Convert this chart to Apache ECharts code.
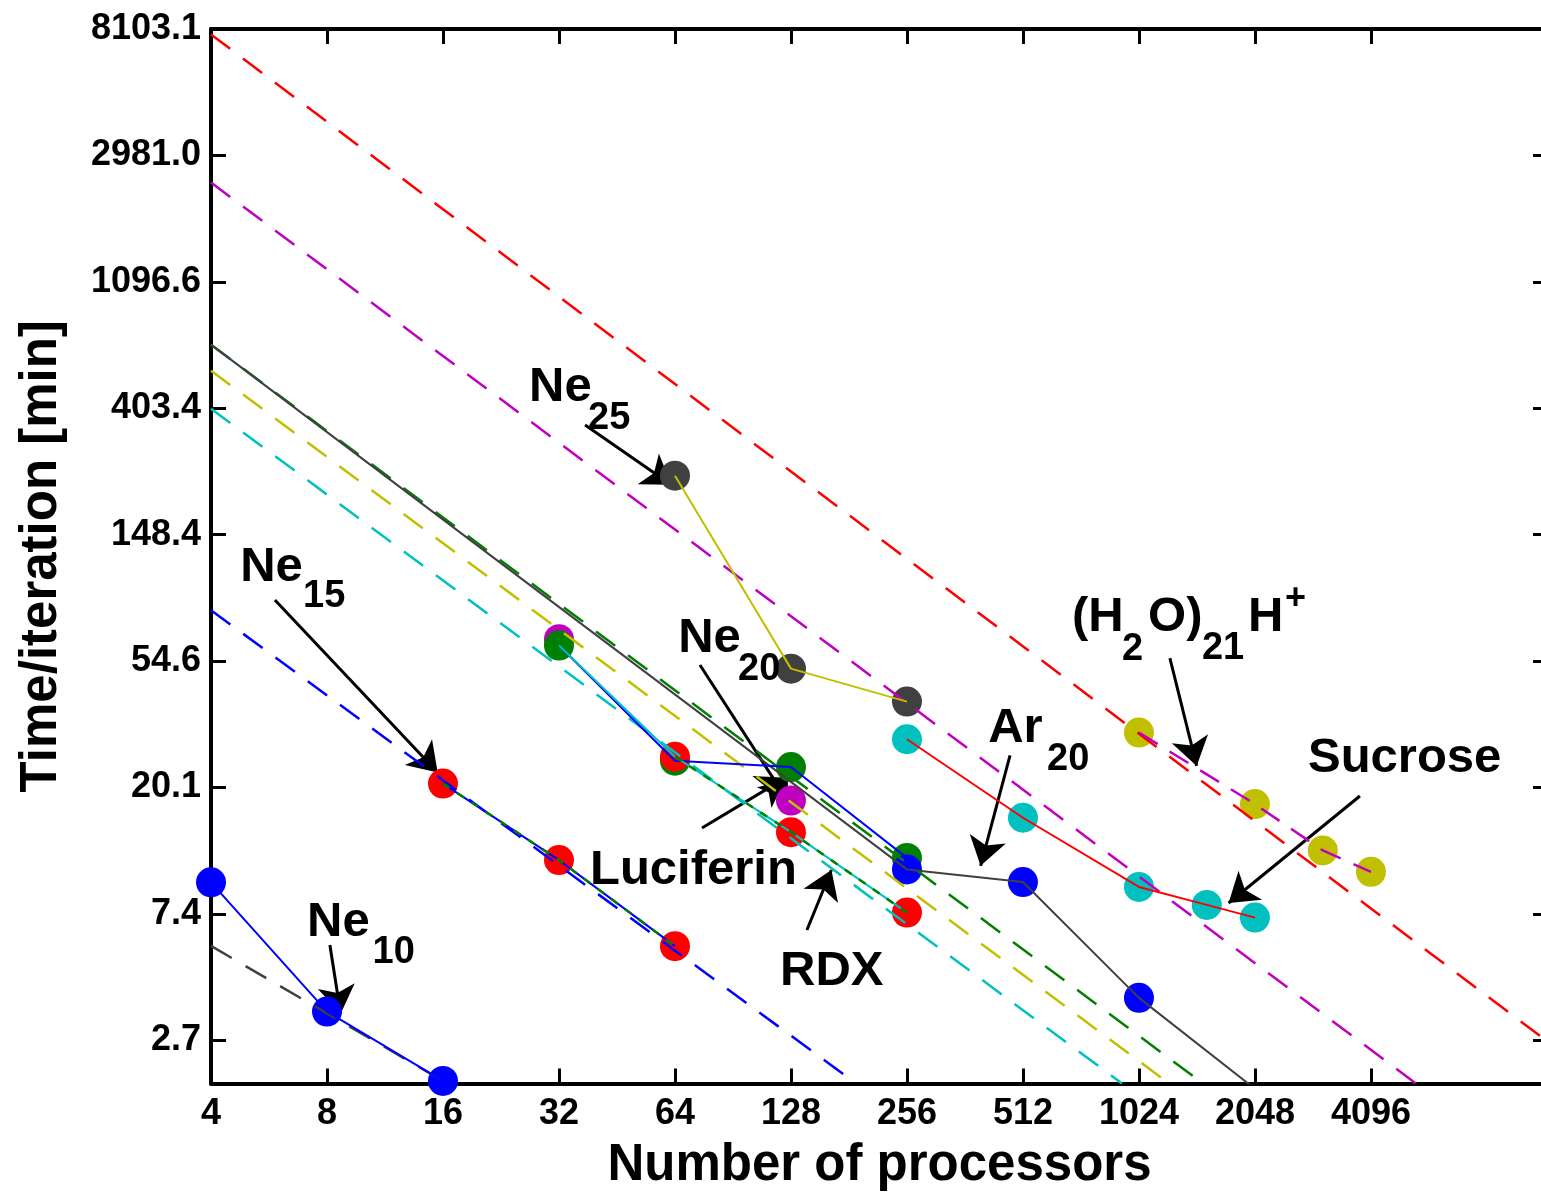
<!DOCTYPE html>
<html>
<head>
<meta charset="utf-8">
<script src="https://cdn.jsdelivr.net/npm/echarts@6/dist/echarts.min.js"></script>
<style>html,body{margin:0;padding:0;background:#fff}#c{width:1541px;height:1192px}</style>
</head>
<body>
<div id="c"></div>
<script>
// ---------- axes ----------
const xTicks = [4, 8, 16, 32, 64, 128, 256, 512, 1024, 2048, 4096];
const yTicks = [2.71828, 7.38906, 20.0855, 54.5982, 148.413, 403.429, 1096.63, 2980.96, 8103.08];
const xRange = [4, 11800];
const yRange = [1.93, 8103.1];

// ---------- ideal-scaling reference lines (dashed) : [processors, minutes] ----------
const idealRed     = [[4, 7764], [11300, 2.8]];
const idealMagenta = [[4, 2405], [5360, 1.93]];
const idealGreen   = [[4, 667], [1501, 1.93]];
const idealYellow  = [[4, 543], [1226, 1.93]];
const idealCyan    = [[4, 402], [925, 1.93]];
const idealBlue    = [[4, 81.6], [189, 1.93]];
const fitNe10      = [[4, 5.73], [16, 1.97]];

// ---------- measured timings : [processors, minutes] ----------
const ne10      = [[4, 9.48], [8, 3.41], [16, 1.97]];
const ne15      = [[16, 20.7], [32, 11.3], [64, 5.72]];
const ne20      = [[32, 64.9], [128, 18.1]];
const luciferin = [[32, 61.7], [64, 24.8], [128, 23.6], [256, 11.5]];
const rdx       = [[32, 61.7], [64, 25.6], [128, 14.1], [256, 7.46]];
const rdxFit    = [[64, 25.6], [128, 14.1], [256, 7.46]];
const ne25      = [[64, 236.6], [128, 51.4], [256, 39.6]];
const ar20Line  = [[4, 667], [256, 10.5], [512, 9.5], [1024, 3.8], [2048, 1.85]];
const ar20      = [[256, 10.5], [512, 9.5], [1024, 3.8]];
const sucrose   = [[256, 29.4], [512, 15.8], [1024, 9.14], [1536, 7.93], [2048, 7.17]];
const h2o       = [[1024, 31.0], [2048, 17.6], [3072, 12.2], [4096, 10.3]];

// ---------- annotations (data coordinates) ----------
const mainLabels = [
  ['Ne', 26.75, 477], ['Ne', 65.2, 65.0], ['Ne', 4.76, 114], ['Ne', 7.10, 6.92],
  ['Luciferin', 38.5, 10.45], ['RDX', 119.9, 4.70], ['Ar', 415.7, 31.9],
  ['(H', 686, 77.3], ['O)', 1081, 77.3], ['H', 1964, 77.3], ['Sucrose', 2811, 25.2]
];
const subLabels = [
  ['25', 38.05, 373], ['20', 93.3, 50.9], ['15', 6.93, 90.6], ['10', 10.5, 5.42],
  ['20', 591, 24.96], ['2', 925, 60.0], ['21', 1492, 60.5]
];
const supLabels = [['+', 2450, 89.1]];
const arrows = [
  [[37.4, 353], [62.6, 220]],
  [[5.86, 88.5], [15.5, 22.6]],
  [[8.14, 5.77], [8.68, 3.35]],
  [[74.3, 52.9], [125.5, 18.1]],
  [[75.2, 14.57], [124.2, 21.7]],
  [[140.8, 6.50], [163.0, 10.45]],
  [[474, 25.9], [397.5, 10.8]],
  [[1232, 55.9], [1446, 23.8]],
  [[3835, 18.77], [1750, 8.05]]
];

// ---------- helpers ----------
const FONT = "'Liberation Sans', Arial, Helvetica, sans-serif";
const tx = p => Math.log2(p);
const ty = v => Math.log(v);
const tr = a => a.map(d => [tx(d[0]), ty(d[1])]);

const C = {
  red: '#ff0000', magenta: '#c000c0', green: '#008000', yellow: '#c0c000',
  cyan: '#00c0c0', blue: '#0000ff', grey: '#404040', black: '#000000'
};

function dashed(data, color, dash, width) {
  return { type: 'line', data: tr(data), symbol: 'none', silent: true,
    lineStyle: { color, width: width || 2.5, type: dash || [24, 16] } };
}
function solid(data, color, width) {
  return { type: 'line', data: tr(data), symbol: 'none', silent: true,
    lineStyle: { color, width: width || 2, type: 'solid' } };
}
function points(data, color) {
  return { type: 'scatter', data: tr(data), symbol: 'circle', symbolSize: 30, silent: true,
    itemStyle: { color, opacity: 1 } };
}
function textSeries(list, size) {
  return { type: 'scatter', silent: true, symbolSize: 0.1,
    itemStyle: { color: '#000000', opacity: 1 },
    data: list.map(d => ({ name: d[0], value: [tx(d[1]), ty(d[2])] })),
    label: { show: true, formatter: '{b}', position: 'right', distance: 0,
      fontFamily: FONT, fontWeight: 'bold', fontSize: size, color: '#000000', opacity: 1,
      textBorderWidth: 0, align: 'left', verticalAlign: 'middle' } };
}

const xMin = tx(xRange[0]), xMax = tx(xRange[1]);
const yMin = ty(yRange[0]), yMax = ty(yRange[1]);
const xTickV = xTicks.map(tx), yTickV = yTicks.map(ty);

const axisLine = { show: true, onZero: false, lineStyle: { color: '#000', width: 4 } };
const tickStyle = (vals) => ({ show: true, inside: true, length: 15, customValues: vals,
  lineStyle: { color: '#000', width: 3 } });
const labelStyle = { fontFamily: FONT, fontWeight: 'bold', fontSize: 36, color: '#000' };

const option = {
  animation: false,
  backgroundColor: '#ffffff',
  grid: { left: 211, right: -7, top: 29, bottom: 108.5, containLabel: false, outerBoundsMode: 'none' },
  xAxis: [
    { type: 'value', position: 'bottom', min: xMin, max: xMax,
      axisLine, axisTick: tickStyle(xTickV), splitLine: { show: false },
      axisLabel: Object.assign({ customValues: xTickV, margin: 13,
        formatter: v => String(Math.round(Math.pow(2, v))) }, labelStyle),
      name: 'Number of processors', nameLocation: 'middle', nameGap: 57,
      nameTextStyle: { fontFamily: FONT, fontWeight: 'bold', fontSize: 51, color: '#000' } },
    { type: 'value', position: 'top', min: xMin, max: xMax,
      axisLine, axisTick: tickStyle(xTickV), splitLine: { show: false },
      axisLabel: { show: false } }
  ],
  yAxis: [
    { type: 'value', position: 'left', min: yMin, max: yMax,
      axisLine, axisTick: tickStyle(yTickV), splitLine: { show: false },
      axisLabel: Object.assign({ customValues: yTickV, margin: 10,
        formatter: v => Math.exp(v).toFixed(1) }, labelStyle),
      name: 'Time/iteration [min]', nameLocation: 'middle', nameGap: 144, nameRotate: 90,
      nameTextStyle: { fontFamily: FONT, fontWeight: 'bold', fontSize: 51, color: '#000' } },
    { type: 'value', position: 'right', min: yMin, max: yMax,
      axisLine, axisTick: tickStyle(yTickV), splitLine: { show: false },
      axisLabel: { show: false } }
  ],
  series: [
    dashed(idealRed, C.red),
    dashed(idealMagenta, C.magenta),
    dashed(idealGreen, C.green),
    dashed(idealYellow, C.yellow),
    dashed(idealCyan, C.cyan),
    dashed(idealBlue, C.blue),
    dashed(fitNe10, C.grey, [24, 16]),
    solid(ar20Line, C.grey),
    solid(ne10, C.blue),
    solid(luciferin, C.blue),
    solid(rdx, C.cyan),
    dashed(rdxFit, C.green, [8, 9], 2.5),
    solid(ne25, C.yellow),
    solid(sucrose, C.red),
    dashed(h2o, C.magenta, [22, 14], 2.5),
    points(ne20, C.magenta),
    points(luciferin, C.green),
    points(rdx.slice(1), C.red),
    points(ne10, C.blue),
    points(ne15, C.red),
    points(ar20, C.blue),
    points(ne25, C.grey),
    points(sucrose, C.cyan),
    points(h2o, C.yellow),
    solid(ne15, C.blue),
    dashed(ne15, C.green, [8, 9], 2.5),
    { type: 'lines', coordinateSystem: 'cartesian2d', silent: true,
      symbol: ['none', 'arrow'], symbolSize: 28,
      effect: { show: false },
      lineStyle: { color: '#000', width: 3, opacity: 1, curveness: 0 },
      data: arrows.map(a => ({ coords: tr(a) })) },
    textSeries(mainLabels, 49),
    textSeries(subLabels, 38),
    textSeries(supLabels, 36)
  ]
};

const chart = echarts.init(document.getElementById('c'), null, { renderer: 'canvas' });
chart.setOption(option);
</script>
</body>
</html>
